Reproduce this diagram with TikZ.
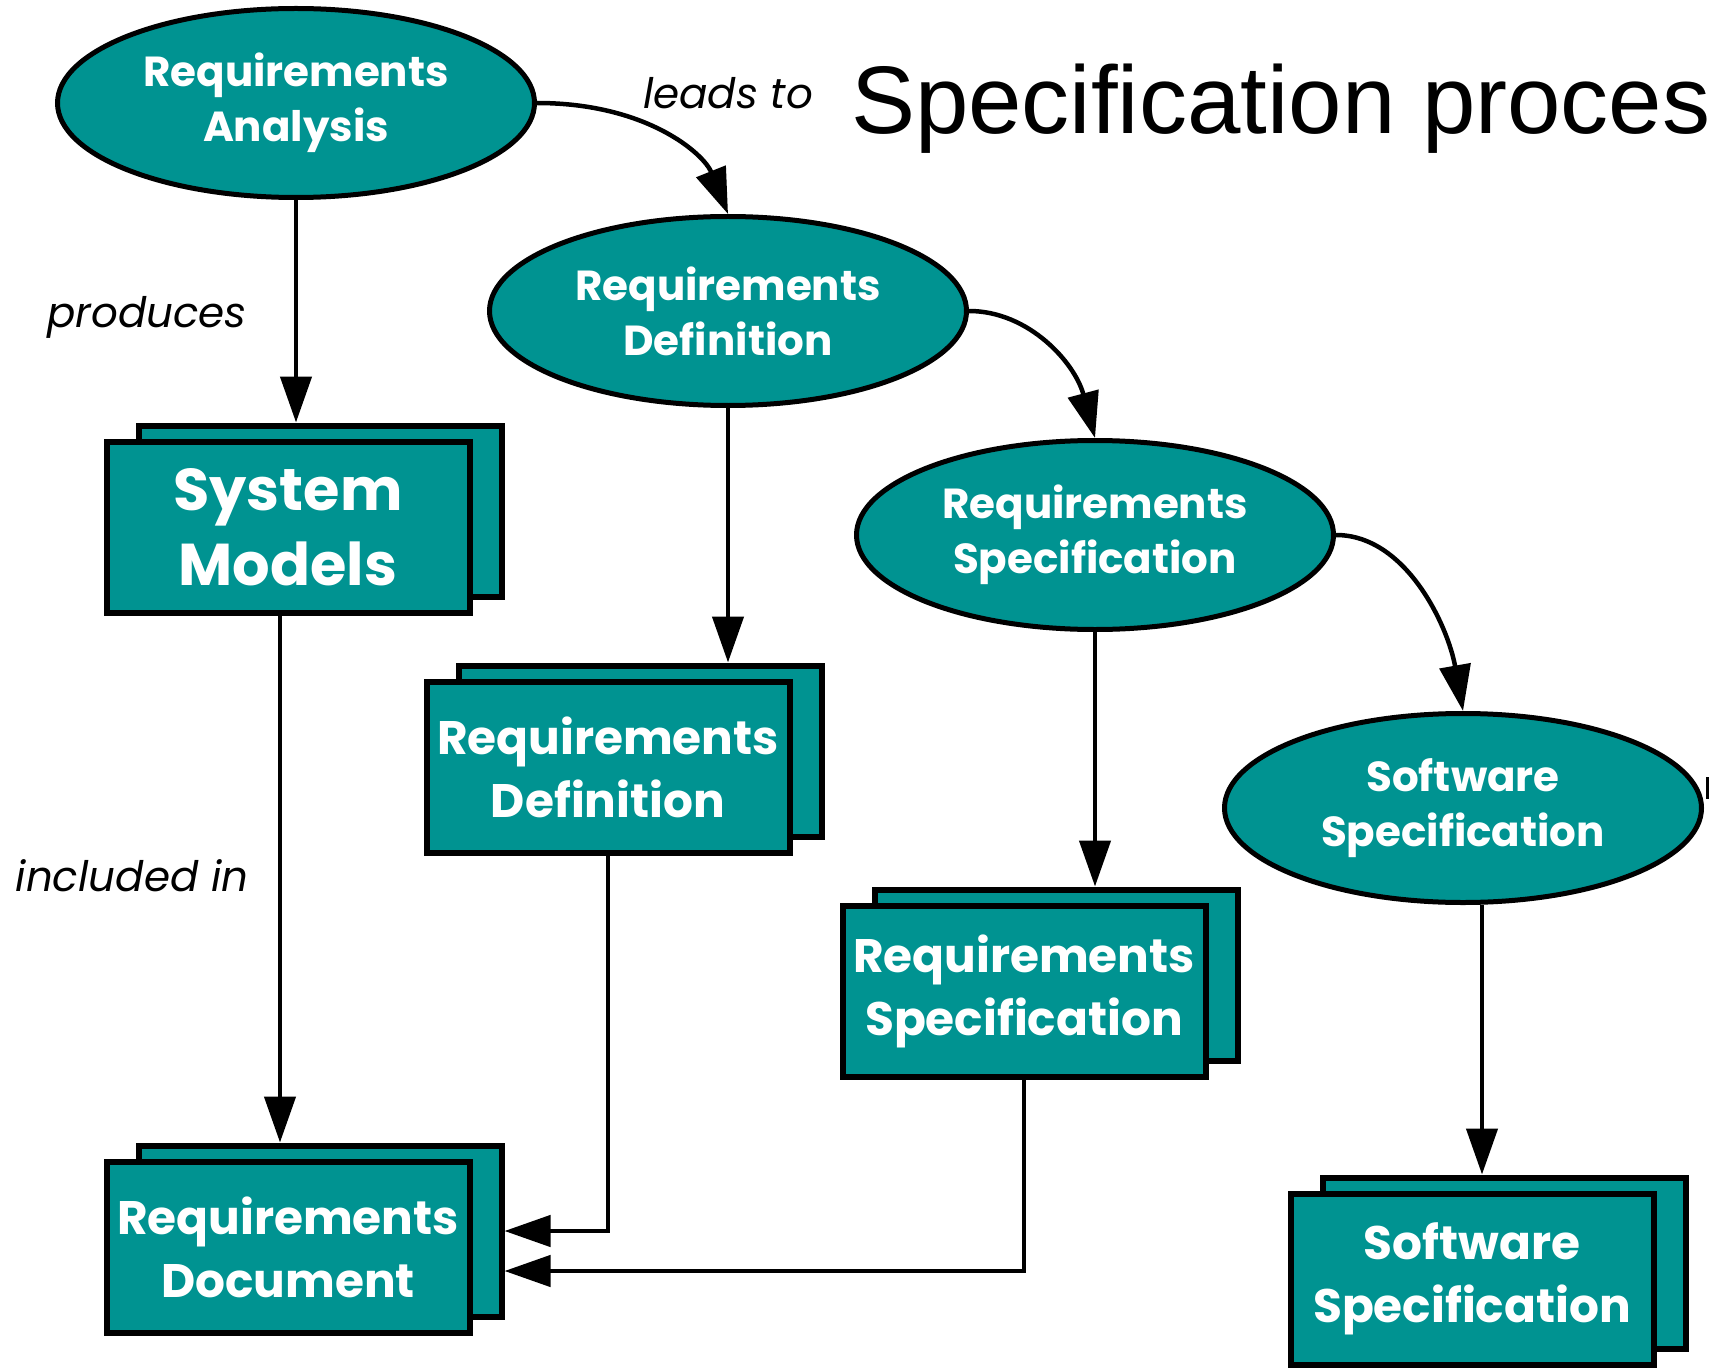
\documentclass[tikz,border=0pt]{standalone}
\usepackage{fontspec}
\setmainfont{Poppins}
\newfontfamily\titlefont{Liberation Sans}
\usetikzlibrary{shapes.geometric,arrows.meta,shadows,calc}
\definecolor{tealfill}{RGB}{0,147,145}
\begin{document}
\begin{tikzpicture}[x=1pt,y=-1pt,
  proc/.style={ellipse, draw=black, fill=tealfill, line width=5pt,
    minimum width=477pt, minimum height=189pt, inner sep=0pt, text=white,
    font=\fontsize{42}{55}\selectfont\bfseries, align=center},
  doc/.style={rectangle, draw=black, fill=tealfill, line width=6pt,
    minimum width=363pt, minimum height=171pt, inner sep=0pt, text=white,
    font=\fontsize{47}{63}\selectfont\bfseries, align=center,
    copy shadow={shadow xshift=32pt, shadow yshift=16pt, fill=tealfill,
      draw=black, line width=6pt}},
  conn/.style={line width=4.5pt, -{Triangle[length=46pt,width=31pt]}},
  lbl/.style={font=\fontsize{42}{50}\selectfont\itshape, inner sep=0pt}
]
\useasboundingbox (0,0) rectangle (1711,1372);

% processes
\node[proc] (RA) at (296,103) {Requirements\\Analysis};
\node[proc] (RD) at (728,311) {Requirements\\Definition};
\node[proc] (RS) at (1095,535) {Requirements\\Specification};
\node[proc] (SS) at (1463,808) {Software\\Specification};

% documents
\node[doc, font=\fontsize{59}{75}\selectfont\bfseries] (SM) at (288,527) {System\\Models};
\node[doc] (RDb) at (608,767) {Requirements\\Definition};
\node[doc] (RSb) at (1024,991) {Requirements\\Specification};
\node[doc] (RDoc) at (288,1247) {Requirements\\Document};
\node[doc] (SSb) at (1472,1279) {Software\\Specification};

% title and labels
\node[font=\titlefont\fontsize{96}{110}\selectfont, anchor=base west, inner sep=0pt]
  (title) at (851,134) {Specification proces};
\node[lbl] (lead) at (728,93) {leads to};
\node[lbl] (prod) at (147,317) {produces};
\node[lbl] (incl) at (132,876) {included in};

% process chain
\draw[conn] (RA.east) .. controls +(110,0) and +(-24,-60) .. (RD.north);
\draw[conn] (RD.east) .. controls +(60,0) and +(-20,-75) .. (RS.north);
\draw[conn] (RS.east) .. controls +(70,0) and +(-15,-85) .. (SS.north);

% products
\draw[conn] (RA.south) -- ($(RA.south |- SM.north)+(0,-16)$);
\draw[conn] (RD.south) -- ($(RD.south |- RDb.north)+(0,-16)$);
\draw[conn] (RS.south) -- ($(RS.south |- RSb.north)+(0,-16)$);
\coordinate (ssd) at ($(SS.south)+(19,0)$);
\draw[conn] (ssd) -- ($(ssd |- SSb.north)+(0,-16)$);

% inclusion in the requirements document
\coordinate (smd) at ($(SM.south)+(-8,0)$);
\draw[conn] (smd) -- ($(smd |- RDoc.north)+(0,-16)$);
\draw[conn] (RDb.south) |- ($(RDoc.east)+(32,-16)$);
\draw[conn] (RSb.south) |- ($(RDoc.east)+(32,24)$);

% stub at the right border
\draw[line width=3pt] (1707,777) -- (1707,799);
\end{tikzpicture}
\end{document}
